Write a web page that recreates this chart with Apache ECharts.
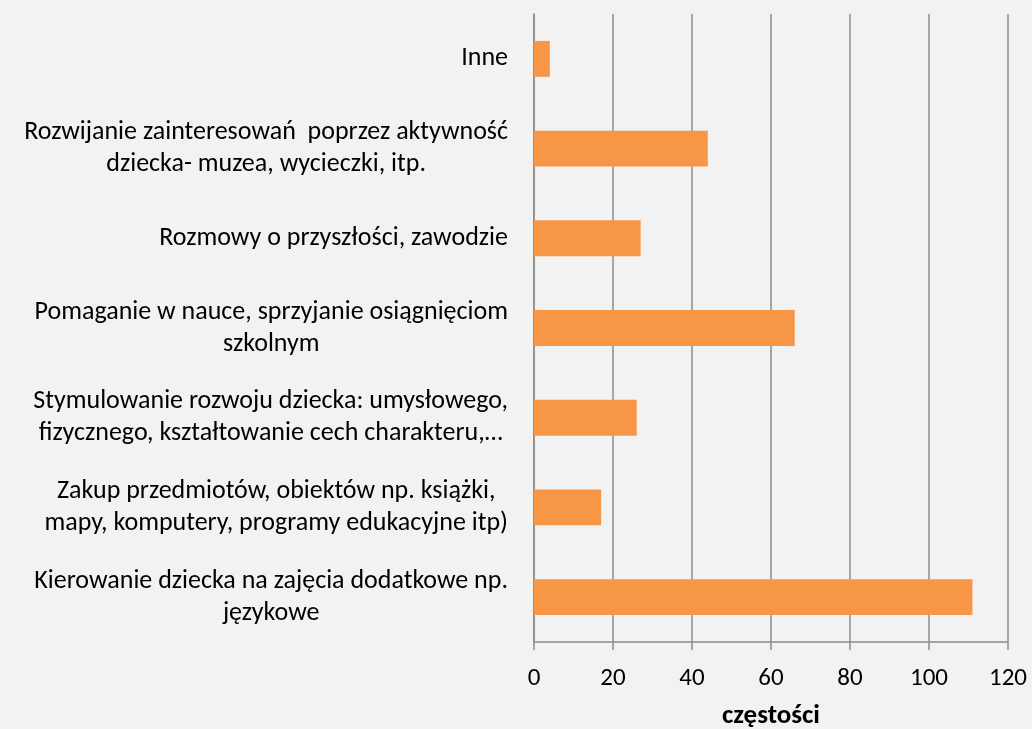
<!DOCTYPE html>
<html>
<head>
<meta charset="utf-8">
<script src="https://cdn.jsdelivr.net/npm/echarts@6/dist/echarts.min.js"></script>
<style>
  html, body { margin: 0; padding: 0; background: #f2f2f2; }
  #chart { width: 1032px; height: 729px; }
</style>
</head>
<body>
<div id="chart"></div>
<script>
// categories listed from the bottom of the chart to the top
const categories = [
    'Kierowanie dziecka na zajęcia dodatkowe np.\njęzykowe',
    'Zakup przedmiotów, obiektów np. książki,\nmapy, komputery, programy edukacyjne itp)',
    'Stymulowanie rozwoju dziecka: umysłowego,\nfizycznego, kształtowanie cech charakteru,…',
    'Pomaganie w nauce, sprzyjanie osiągnięciom\nszkolnym',
    'Rozmowy o przyszłości, zawodzie',
    'Rozwijanie zainteresowań  poprzez aktywność\ndziecka- muzea, wycieczki, itp.',
    'Inne'
];
const counts = [111, 17, 26, 66, 27, 44, 4];

const xMin = 0;
const xMax = 120;
const xStep = 20;
const axisName = 'częstości';

const font = 'Carlito, Lato, sans-serif';
const gridColor = '#8c8c8c';

var chartDom = document.getElementById('chart');
var myChart = echarts.init(chartDom);

var option = {
    backgroundColor: '#f2f2f2',
    animation: false,
    grid: {
        left: 534,
        right: 24,
        top: 14,
        bottom: 87,
        containLabel: false,
        outerBoundsMode: 'none'
    },
    xAxis: {
        type: 'value',
        min: xMin,
        max: xMax,
        interval: xStep,
        name: axisName,
        nameLocation: 'middle',
        nameGap: 61,
        nameTextStyle: {
            fontFamily: font,
            fontSize: 27,
            fontWeight: 'bold',
            color: '#000'
        },
        axisLine: { show: true, lineStyle: { color: gridColor, width: 1.5 } },
        axisTick: { show: true, length: 8, lineStyle: { color: gridColor, width: 1.5 } },
        axisLabel: {
            margin: 24,
            fontFamily: font,
            fontSize: 25,
            color: '#000'
        },
        splitLine: { show: true, lineStyle: { color: gridColor, width: 1.5 } }
    },
    yAxis: {
        type: 'category',
        data: categories,
        axisLine: { show: true, lineStyle: { color: gridColor, width: 1.5 } },
        axisTick: { show: false },
        axisLabel: {
            margin: 26,
            fontFamily: font,
            fontSize: 26,
            lineHeight: 32,
            color: '#000',
            // centre the lines of each label against each other, like Excel does
            formatter: function (value) {
                return value.split('\n').map(function (line) {
                    return '{c|' + line + '}';
                }).join('\n');
            },
            rich: {
                c: {
                    align: 'center',
                    fontFamily: font,
                    fontSize: 26,
                    lineHeight: 32,
                    color: '#000'
                }
            }
        }
    },
    series: [
        {
            type: 'bar',
            data: counts,
            barWidth: '40%',
            itemStyle: { color: '#f79646' }
        }
    ]
};

myChart.setOption(option);
</script>
</body>
</html>
